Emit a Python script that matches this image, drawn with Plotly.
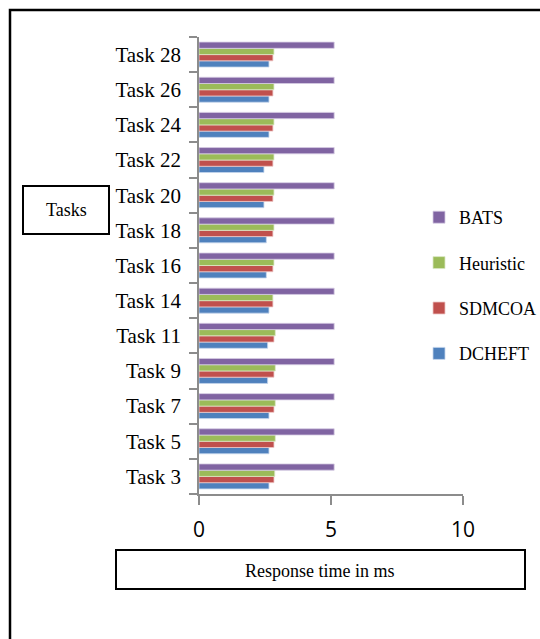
import plotly.graph_objects as go

# Task labels, bottom to top
tasks = ["Task 3", "Task 5", "Task 7", "Task 9", "Task 11", "Task 14", "Task 16",
         "Task 18", "Task 20", "Task 22", "Task 24", "Task 26", "Task 28"]

# Response time (ms) per algorithm
dcheft = [2.65, 2.65, 2.65, 2.60, 2.60, 2.65, 2.55, 2.55, 2.46, 2.46, 2.65, 2.65, 2.65]
sdmcoa = [2.84, 2.84, 2.84, 2.84, 2.84, 2.80, 2.80, 2.80, 2.80, 2.80, 2.80, 2.80, 2.80]
heuristic = [2.87, 2.89, 2.89, 2.89, 2.89, 2.80, 2.84, 2.84, 2.84, 2.84, 2.84, 2.84, 2.84]
bats = [5.12] * 13

# name, values, fill, edge, legend rank (BATS listed first)
series = [
    ("DCHEFT", dcheft, "#4F81BD", "#C5D6EC", 4),
    ("SDMCOA", sdmcoa, "#C0504D", "#EEC6C5", 3),
    ("Heuristic", heuristic, "#9BBB59", "#DCE8C6", 2),
    ("BATS", bats, "#8064A2", "#D6CCE3", 1),
]

fig = go.Figure()
for name, vals, color, edge, rank in series:
    fig.add_trace(go.Bar(
        y=tasks, x=vals, name=name, orientation="h",
        marker=dict(color=color, line=dict(color=edge, width=0.8)),
        legendgroup=name, legendrank=rank,
    ))

# plot area in pixels
L, R, T, B = 199, 463, 37, 494
W, H = 540, 639


def px(x):
    return (x - L) / (R - L)


def py(y):
    return (B - y) / (B - T)


axis_grey = "#8C8C8C"
shapes = [
    # outer frame (left and top edges)
    dict(type="path", xref="paper", yref="paper",
         path=f"M {px(10)},{py(645)} L {px(10)},{py(10)} L {px(548)},{py(10)}",
         line=dict(color="black", width=2.5)),
    # "Tasks" box
    dict(type="rect", xref="paper", yref="paper",
         x0=px(23), x1=px(109), y0=py(234), y1=py(186),
         line=dict(color="black", width=2), fillcolor="white"),
    # "Response time in ms" box
    dict(type="rect", xref="paper", yref="paper",
         x0=px(116), x1=px(525), y0=py(589), y1=py(550),
         line=dict(color="black", width=2), fillcolor="white"),
]

serif = "Liberation Serif, Times New Roman, serif"
annotations = [
    dict(text="Tasks", xref="paper", yref="paper", x=px(66), y=py(210),
         xanchor="center", yanchor="middle",
         showarrow=False, font=dict(family=serif, size=18, color="black")),
    dict(text="Response time in ms", xref="paper", yref="paper", x=px(320), y=py(571),
         xanchor="center", yanchor="middle",
         showarrow=False, font=dict(family=serif, size=18, color="black")),
]

fig.update_layout(
    width=W, height=H,
    margin=dict(l=L, r=W - R, t=T, b=H - B, pad=0, autoexpand=False),
    paper_bgcolor="white", plot_bgcolor="white",
    barmode="group", bargap=0.29, bargroupgap=0,
    showlegend=True,
    legend=dict(
        x=px(419), xanchor="left", y=py(199), yanchor="top",
        traceorder="grouped", tracegroupgap=19,
        font=dict(family=serif, size=18, color="black"),
        bgcolor="rgba(0,0,0,0)", itemwidth=30,
    ),
    shapes=shapes,
    annotations=annotations,
    xaxis=dict(
        range=[0, 10], tickvals=[0, 5, 10], showgrid=False, zeroline=False,
        showline=True, linecolor=axis_grey, linewidth=1.5,
        ticks="outside", ticklen=9, tickcolor=axis_grey, tickwidth=1.5,
        tickfont=dict(family="Open Sans, sans-serif", size=21, color="black"),
        ticklabelstandoff=7,
    ),
    yaxis=dict(
        type="category", categoryorder="array", categoryarray=tasks,
        showgrid=False, zeroline=False,
        showline=True, linecolor=axis_grey, linewidth=1.5,
        ticks="outside", tickson="boundaries", ticklen=8,
        tickcolor=axis_grey, tickwidth=1.5,
        tickfont=dict(family=serif, size=21, color="black"),
        ticklabelstandoff=12,
    ),
)

fig.write_html("out.html")
